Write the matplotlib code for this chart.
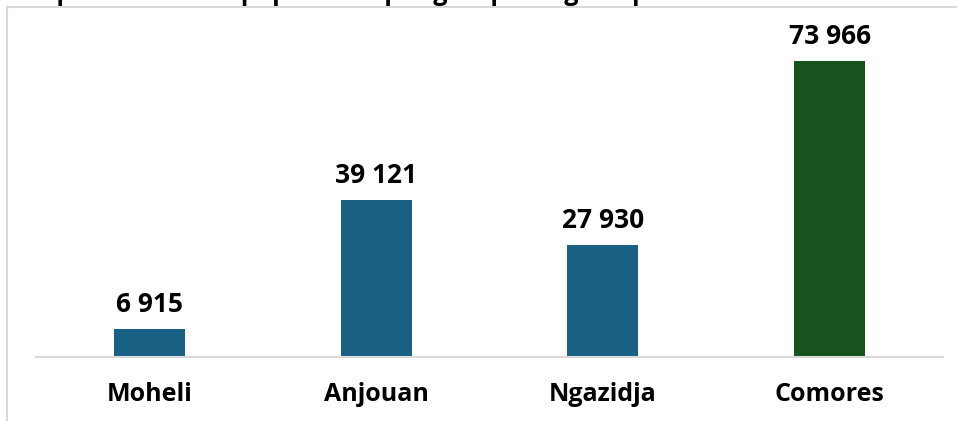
import matplotlib.pyplot as plt
from matplotlib.patches import Rectangle

plt.rcParams['font.family'] = ['Open Sans', 'DejaVu Sans']

# Data
categories = ["Moheli", "Anjouan", "Ngazidja", "Comores"]
values = [6915, 39121, 27930, 73966]
labels = ["6 915", "39 121", "27 930", "73 966"]
colors = ["#186184", "#186184", "#186184", "#17521f"]
title = "Répartition de la population par groupe d'âge et par île"

W, H = 957, 421
fig = plt.figure(figsize=(W / 100, H / 100), dpi=100)

# Chart frame (light gray border, partly cut at the right / bottom)
fig.patches.append(Rectangle((7 / W, -0.1), 1.2, (H - 7) / H + 0.1,
                             transform=fig.transFigure, fill=False,
                             edgecolor="#d9d9d9", linewidth=1.5))

# Title cut at the top of the picture, as in the reference
fig.text(25 / W, 1.0, title, fontsize=18, fontweight="bold", va="baseline", ha="left")

# Axes placed in pixels: left 36, right 943, bottom y=357, top y=20
ax = fig.add_axes([36 / W, (H - 357) / H, (943 - 36) / W, (357 - 20) / H])
ax.bar(range(len(categories)), values, width=0.313, color=colors, zorder=2)
ax.set_xlim(-0.5, 3.5)
ax.set_ylim(0, 73966 * 337 / 296)

for i, (v, t) in enumerate(zip(values, labels)):
    ax.annotate(t, (i, v), xytext=(0, 8), textcoords="offset points",
                ha="center", va="bottom", fontsize=19, fontweight="bold")

ax.set_xticks(range(len(categories)))
ax.set_xticklabels(categories, fontsize=18, fontweight="bold")
ax.tick_params(axis="x", length=0, pad=18)
ax.set_yticks([])
for s in ["top", "right", "left"]:
    ax.spines[s].set_visible(False)
ax.spines["bottom"].set_color("#d9d9d9")
ax.spines["bottom"].set_linewidth(1.5)
ax.patch.set_alpha(0)

fig.savefig("out.png", dpi=100)
